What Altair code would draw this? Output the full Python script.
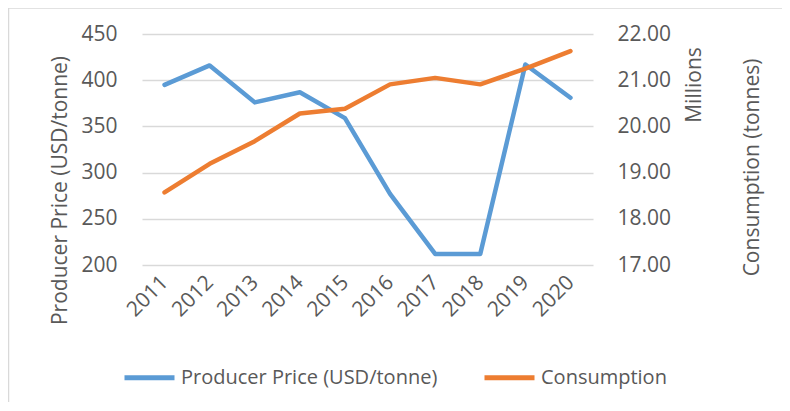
import altair as alt
import pandas as pd

years = ["2011", "2012", "2013", "2014", "2015", "2016", "2017", "2018", "2019", "2020"]
price = [395, 416, 376, 387, 359, 277, 212, 212, 417, 381]
consumption_millions = [18.57, 19.19, 19.68, 20.28, 20.38, 20.91, 21.05, 20.91, 21.25, 21.63]
series_names = ["Producer Price (USD/tonne)", "Consumption"]
colors = ["#5B9BD5", "#ED7D31"]
price_ticks = [200, 250, 300, 350, 400, 450]
cons_ticks = [17, 18, 19, 20, 21, 22]

df = pd.DataFrame({
    "year": years * 2,
    "series": [series_names[0]] * len(years) + [series_names[1]] * len(years),
    "value": price + consumption_millions,
})

FONT = "Open Sans"
GRAY = "#595959"
FS = 21

base = alt.Chart(df)
x_enc = alt.X("year:N", sort=years, title=None,
              axis=alt.Axis(labelAngle=315, labelAlign="right", labelBaseline="middle",
                            labelPadding=14, ticks=False, domain=False, grid=False,
                            labelFontSize=FS, labelColor=GRAY, labelFont=FONT))
color_enc = alt.Color("series:N",
                      scale=alt.Scale(domain=series_names, range=colors),
                      legend=alt.Legend(title=None, orient="none", direction="horizontal",
                                        legendX=-20, legendY=316,
                                        symbolType="stroke", symbolSize=2500,
                                        symbolStrokeWidth=5, labelFontSize=20,
                                        labelColor=GRAY, labelFont=FONT, labelLimit=400,
                                        labelOffset=4, columnPadding=36,
                                        symbolOffset=0))

price_line = base.transform_filter(alt.datum.series == series_names[0]).mark_line(
    strokeWidth=4.5, strokeCap="round", strokeJoin="round"
).encode(
    x=x_enc,
    y=alt.Y("value:Q", scale=alt.Scale(domain=[200, 450], nice=False, zero=False),
            axis=alt.Axis(orient="left", values=price_ticks, title="Producer Price (USD/tonne)",
                          grid=True, gridColor="#D9D9D9", gridWidth=1.3, domain=False,
                          ticks=False, labelPadding=25, labelFontSize=FS, labelColor=GRAY,
                          labelFont=FONT, titleFontSize=FS, titleColor=GRAY, titleFont=FONT,
                          titleFontWeight="normal", titleAngle=270, titleX=-82, titleY=156,
                          titleAlign="center", titleBaseline="middle")),
    color=color_enc,
)

cons_line = base.transform_filter(alt.datum.series == series_names[1]).mark_line(
    strokeWidth=4.5, strokeCap="round", strokeJoin="round"
).encode(
    x=x_enc,
    y=alt.Y("value:Q", scale=alt.Scale(domain=[17, 22], nice=False, zero=False),
            axis=alt.Axis(orient="right", values=cons_ticks, format=".2f",
                          title="Consumption (tonnes)",
                          grid=False, domain=False, ticks=False, labelPadding=24,
                          labelFontSize=FS, labelColor=GRAY, labelFont=FONT,
                          titleFontSize=FS, titleColor=GRAY, titleFont=FONT,
                          titleFontWeight="normal", titleAngle=270, titleX=159, titleY=133,
                          titleAlign="center", titleBaseline="middle")),
    color=color_enc,
)

deco = alt.Chart(alt.Data(values=[{"k": 1}]))
millions = deco.mark_text(angle=270, fontSize=FS, font=FONT, color=GRAY,
                          align="center", baseline="middle").encode(
    x=alt.value(553), y=alt.value(51), text=alt.value("Millions"))
left_border = deco.mark_rule(color="#D9D9D9", strokeWidth=1.5).encode(
    x=alt.value(-133.5), y=alt.value(-26), y2=alt.value(380))
top_border = deco.mark_rule(color="#D9D9D9", strokeWidth=1.5).encode(
    x=alt.value(-133.5), x2=alt.value(660), y=alt.value(-26))

chart = alt.layer(price_line, cons_line, millions, left_border, top_border).resolve_scale(
    y="independent"
).properties(
    width=451, height=231,
    autosize=alt.AutoSizeParams(type="none"),
    padding={"left": 134, "top": 26, "right": 189, "bottom": 137},
).configure_view(stroke=None)

chart.save("out.html", embed_options={"renderer": "svg", "actions": False})
